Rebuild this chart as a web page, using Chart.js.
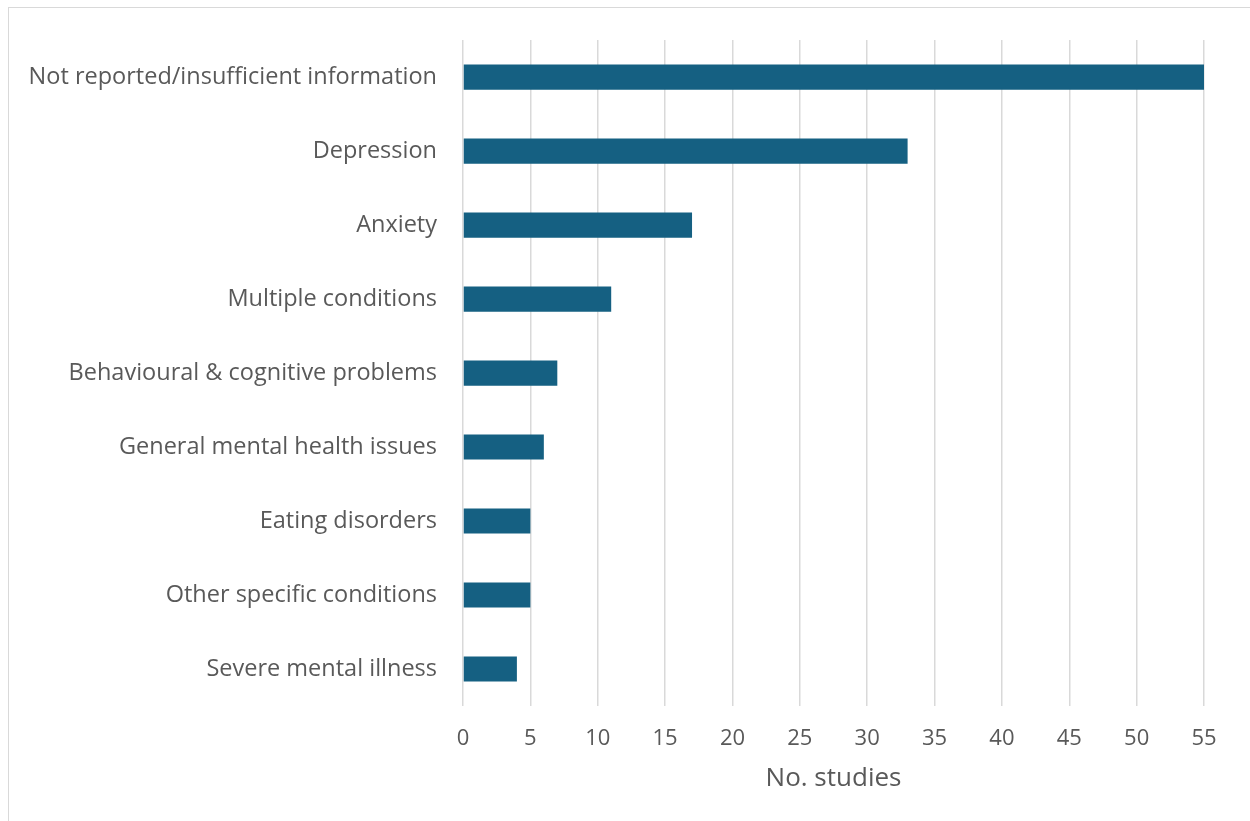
<!DOCTYPE html>
<html>
<head>
<meta charset="utf-8">
<script src="https://cdn.jsdelivr.net/npm/chart.js@4/dist/chart.umd.min.js"></script>
<style>
  html, body { margin: 0; padding: 0; background: #ffffff; overflow: hidden; }
  #frame {
    position: absolute; left: 8px; top: 7px; width: 1300px; height: 900px;
    border: 1.5px solid #d9d9d9; box-sizing: border-box;
  }
  #wrap { position: absolute; left: 0; top: 0; width: 1250px; height: 821px; }
</style>
</head>
<body>
<div id="frame"></div>
<div id="wrap"><canvas id="chart" width="1250" height="821"></canvas></div>
<script>
// Studies by mental health condition
const categories = [
  "Not reported/insufficient information",
  "Depression",
  "Anxiety",
  "Multiple conditions",
  "Behavioural & cognitive problems",
  "General mental health issues",
  "Eating disorders",
  "Other specific conditions",
  "Severe mental illness"
];
const studyCounts = [55, 33, 17, 11, 7, 6, 5, 5, 4];
const xMin = 0;
const xMax = 55;
const xStep = 5;
const xTitle = "No. studies";

const textColor = "#595959";
const fontFamily = "'Open Sans', 'Liberation Sans', sans-serif";

new Chart(document.getElementById("chart"), {
  type: "bar",
  data: {
    labels: categories,
    datasets: [{
      data: studyCounts,
      backgroundColor: "#156082",
      borderWidth: 0,
      barPercentage: 0.68,
      categoryPercentage: 0.5
    }]
  },
  options: {
    indexAxis: "y",
    responsive: false,
    animation: false,
    layout: { padding: { top: 37, right: 46, bottom: 0, left: 0 } },
    plugins: { legend: { display: false }, tooltip: { enabled: false } },
    scales: {
      x: {
        min: xMin, max: xMax,
        ticks: { stepSize: xStep, color: textColor, font: { family: fontFamily, size: 22 }, padding: 20 },
        grid: { color: "#d9d9d9", lineWidth: 1.5, drawTicks: false },
        border: { display: false },
        title: { display: true, text: xTitle, color: textColor, font: { family: fontFamily, size: 26 }, padding: { top: 0, bottom: 27 } },
        afterFit: (scale) => { scale.height = 115; }
      },
      y: {
        ticks: { color: textColor, font: { family: fontFamily, size: 23.5 }, padding: 26 },
        grid: { display: false, drawTicks: false },
        border: { display: false },
        afterFit: (scale) => { scale.width = 463; }
      }
    }
  }
});
</script>
</body>
</html>
